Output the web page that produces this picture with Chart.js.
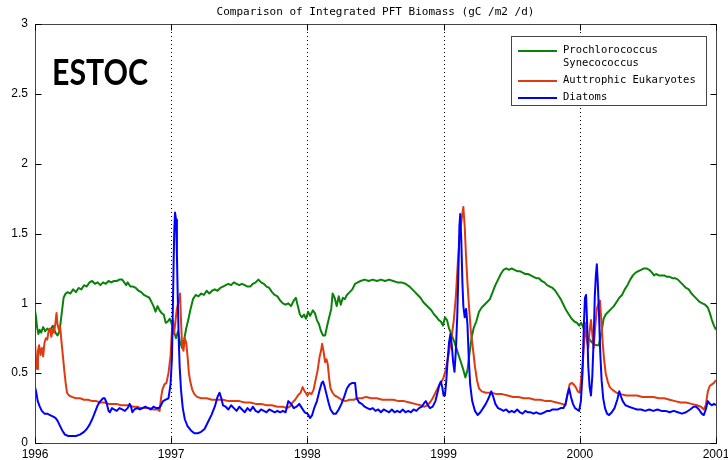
<!DOCTYPE html>
<html>
<head>
<meta charset="utf-8">
<script src="https://cdn.jsdelivr.net/npm/chart.js@4/dist/chart.umd.min.js"></script>
<style>
  html, body { margin: 0; padding: 0; background: #fff; }
  canvas { display: block; }
</style>
</head>
<body>
<canvas id="chart-canvas" width="728" height="460"></canvas>
<script>
var chartTitle = 'Comparison of Integrated PFT Biomass (gC /m2 /d)';
var siteName = 'ESTOC';
var yearTicks = [1996, 1997, 1998, 1999, 2000, 2001];
var valueTicks = [0, 0.5, 1, 1.5, 2, 2.5, 3];
var legendLabels = [['Prochlorococcus', 'Synecococcus'], ['Auttrophic Eukaryotes'], ['Diatoms']];
var seriesColors = ['#0a820a', '#e03a10', '#0000ff'];

// [year, gC/m2/d]
var prochloro = [
  [1996.000,0.95],[1996.008,0.90],[1996.015,0.83],[1996.025,0.78],[1996.035,0.81],[1996.045,0.79],
  [1996.060,0.83],[1996.075,0.80],[1996.090,0.82],[1996.110,0.80],[1996.130,0.84],[1996.150,0.79],
  [1996.165,0.77],[1996.180,0.80],[1996.195,0.92],[1996.210,1.04],[1996.225,1.07],[1996.240,1.08],
  [1996.260,1.07],[1996.280,1.10],[1996.300,1.08],[1996.320,1.11],[1996.340,1.10],[1996.360,1.13],
  [1996.380,1.12],[1996.400,1.15],[1996.420,1.16],[1996.440,1.14],[1996.460,1.15],[1996.480,1.13],
  [1996.500,1.15],[1996.520,1.14],[1996.540,1.16],[1996.560,1.15],[1996.580,1.16],[1996.600,1.16],
  [1996.620,1.17],[1996.640,1.17],[1996.655,1.15],[1996.670,1.13],[1996.680,1.15],[1996.700,1.12],
  [1996.720,1.12],[1996.740,1.11],[1996.760,1.09],[1996.780,1.08],[1996.800,1.06],[1996.820,1.05],
  [1996.840,1.04],[1996.855,1.01],[1996.870,0.98],[1996.885,0.94],[1996.900,0.98],[1996.915,0.95],
  [1996.930,0.93],[1996.945,0.92],[1996.960,0.86],[1996.975,0.87],[1996.990,0.89],[1997.005,0.85],
  [1997.020,0.80],[1997.035,0.75],[1997.050,0.80],[1997.065,0.72],[1997.080,0.68],[1997.095,0.74],
  [1997.110,0.82],[1997.125,0.88],[1997.140,0.95],[1997.160,1.03],[1997.180,1.06],[1997.200,1.05],
  [1997.220,1.07],[1997.240,1.06],[1997.260,1.09],[1997.280,1.07],[1997.300,1.09],[1997.320,1.10],
  [1997.340,1.09],[1997.360,1.11],[1997.380,1.12],[1997.400,1.13],[1997.420,1.14],[1997.440,1.13],
  [1997.460,1.15],[1997.480,1.14],[1997.500,1.13],[1997.520,1.14],[1997.540,1.13],[1997.560,1.12],
  [1997.580,1.12],[1997.600,1.14],[1997.620,1.15],[1997.640,1.17],[1997.660,1.15],[1997.680,1.14],
  [1997.700,1.12],[1997.720,1.11],[1997.740,1.08],[1997.760,1.06],[1997.780,1.05],[1997.800,1.02],
  [1997.820,1.00],[1997.840,0.99],[1997.860,1.00],[1997.880,0.98],[1997.900,1.02],[1997.915,1.04],
  [1997.930,0.98],[1997.945,0.92],[1997.960,0.90],[1997.975,0.92],[1997.990,0.89],[1998.005,0.94],
  [1998.020,0.91],[1998.040,0.95],[1998.055,0.93],[1998.070,0.88],[1998.085,0.85],[1998.100,0.80],
  [1998.115,0.77],[1998.130,0.77],[1998.145,0.84],[1998.160,0.90],[1998.175,0.96],[1998.185,1.07],
  [1998.200,1.04],[1998.215,0.98],[1998.230,1.05],[1998.245,0.99],[1998.260,1.04],[1998.275,1.03],
  [1998.290,1.06],[1998.310,1.08],[1998.330,1.10],[1998.350,1.14],[1998.370,1.15],[1998.390,1.16],
  [1998.420,1.17],[1998.450,1.16],[1998.480,1.17],[1998.510,1.16],[1998.540,1.17],[1998.570,1.16],
  [1998.600,1.17],[1998.630,1.16],[1998.660,1.15],[1998.690,1.15],[1998.720,1.14],[1998.750,1.12],
  [1998.770,1.10],[1998.790,1.08],[1998.810,1.06],[1998.830,1.04],[1998.850,1.01],[1998.870,0.99],
  [1998.890,0.97],[1998.910,0.95],[1998.930,0.92],[1998.950,0.90],[1998.965,0.88],[1998.980,0.87],
  [1998.995,0.84],[1999.010,0.90],[1999.025,0.88],[1999.040,0.82],[1999.060,0.77],[1999.080,0.72],
  [1999.100,0.66],[1999.120,0.60],[1999.140,0.54],[1999.160,0.47],[1999.175,0.52],[1999.190,0.64],
  [1999.205,0.75],[1999.220,0.82],[1999.240,0.87],[1999.260,0.94],[1999.280,0.97],[1999.300,0.99],
  [1999.320,1.01],[1999.340,1.03],[1999.360,1.08],[1999.380,1.13],[1999.400,1.17],[1999.420,1.21],
  [1999.440,1.24],[1999.460,1.25],[1999.480,1.24],[1999.500,1.25],[1999.520,1.24],[1999.540,1.23],
  [1999.560,1.23],[1999.580,1.22],[1999.600,1.21],[1999.620,1.21],[1999.640,1.20],[1999.660,1.19],
  [1999.680,1.18],[1999.700,1.18],[1999.720,1.16],[1999.740,1.15],[1999.760,1.13],[1999.780,1.12],
  [1999.800,1.11],[1999.820,1.09],[1999.840,1.06],[1999.860,1.03],[1999.880,0.99],[1999.900,0.95],
  [1999.920,0.92],[1999.940,0.89],[1999.960,0.87],[1999.980,0.86],[1999.995,0.84],[2000.010,0.86],
  [2000.025,0.83],[2000.040,0.80],[2000.060,0.76],[2000.080,0.73],[2000.100,0.71],[2000.120,0.70],
  [2000.140,0.70],[2000.160,0.80],[2000.175,0.89],[2000.190,0.92],[2000.210,0.94],[2000.230,0.96],
  [2000.250,0.98],[2000.270,1.01],[2000.290,1.04],[2000.310,1.06],[2000.330,1.10],[2000.350,1.13],
  [2000.370,1.17],[2000.390,1.20],[2000.410,1.22],[2000.430,1.23],[2000.450,1.24],[2000.470,1.25],
  [2000.490,1.25],[2000.510,1.24],[2000.530,1.22],[2000.545,1.20],[2000.560,1.21],[2000.580,1.20],
  [2000.600,1.20],[2000.620,1.20],[2000.640,1.19],[2000.660,1.19],[2000.680,1.18],[2000.700,1.18],
  [2000.720,1.17],[2000.740,1.15],[2000.760,1.13],[2000.780,1.11],[2000.800,1.10],[2000.820,1.07],
  [2000.840,1.05],[2000.860,1.03],[2000.880,1.01],[2000.900,1.00],[2000.920,0.99],[2000.940,0.97],
  [2000.955,0.93],[2000.970,0.88],[2000.985,0.84],[2001.000,0.81]
];

var eukaryotes = [
  [1996.000,0.71],[1996.008,0.60],[1996.015,0.53],[1996.022,0.66],[1996.030,0.70],[1996.040,0.63],
  [1996.050,0.68],[1996.060,0.62],[1996.070,0.72],[1996.080,0.75],[1996.090,0.74],[1996.100,0.80],
  [1996.110,0.82],[1996.120,0.76],[1996.130,0.81],[1996.140,0.79],[1996.150,0.86],[1996.158,0.93],
  [1996.165,0.85],[1996.175,0.81],[1996.185,0.83],[1996.195,0.72],[1996.205,0.62],[1996.215,0.52],
  [1996.225,0.43],[1996.235,0.36],[1996.250,0.34],[1996.270,0.33],[1996.300,0.32],[1996.330,0.32],
  [1996.360,0.31],[1996.390,0.31],[1996.420,0.30],[1996.450,0.30],[1996.480,0.29],[1996.510,0.29],
  [1996.540,0.28],[1996.570,0.28],[1996.600,0.28],[1996.630,0.27],[1996.660,0.27],[1996.690,0.27],
  [1996.720,0.26],[1996.750,0.26],[1996.780,0.25],[1996.810,0.25],[1996.840,0.25],[1996.870,0.24],
  [1996.900,0.24],[1996.915,0.23],[1996.925,0.32],[1996.935,0.38],[1996.950,0.42],[1996.965,0.43],
  [1996.980,0.50],[1996.995,0.62],[1997.005,0.80],[1997.012,0.88],[1997.020,0.78],[1997.030,0.86],
  [1997.040,0.95],[1997.055,1.02],[1997.065,1.07],[1997.072,0.88],[1997.080,0.70],[1997.090,0.66],
  [1997.100,0.75],[1997.110,0.72],[1997.120,0.62],[1997.130,0.50],[1997.140,0.44],[1997.155,0.38],
  [1997.170,0.35],[1997.190,0.33],[1997.220,0.32],[1997.260,0.32],[1997.300,0.31],[1997.340,0.31],
  [1997.380,0.31],[1997.420,0.30],[1997.460,0.30],[1997.500,0.30],[1997.540,0.29],[1997.580,0.29],
  [1997.620,0.28],[1997.660,0.28],[1997.700,0.27],[1997.740,0.27],[1997.780,0.26],[1997.820,0.26],
  [1997.850,0.25],[1997.870,0.26],[1997.890,0.29],[1997.910,0.31],[1997.930,0.34],[1997.950,0.36],
  [1997.965,0.40],[1997.980,0.37],[1998.000,0.34],[1998.015,0.36],[1998.030,0.35],[1998.045,0.38],
  [1998.060,0.45],[1998.075,0.52],[1998.090,0.62],[1998.100,0.66],[1998.108,0.71],[1998.118,0.66],
  [1998.130,0.58],[1998.140,0.60],[1998.150,0.56],[1998.160,0.46],[1998.170,0.39],[1998.185,0.36],
  [1998.200,0.34],[1998.220,0.33],[1998.250,0.31],[1998.280,0.30],[1998.310,0.31],[1998.340,0.31],
  [1998.370,0.32],[1998.400,0.32],[1998.430,0.33],[1998.470,0.32],[1998.510,0.32],[1998.550,0.31],
  [1998.590,0.31],[1998.630,0.31],[1998.670,0.30],[1998.710,0.30],[1998.750,0.29],[1998.790,0.28],
  [1998.830,0.27],[1998.860,0.26],[1998.880,0.27],[1998.900,0.29],[1998.920,0.32],[1998.940,0.36],
  [1998.960,0.40],[1998.980,0.43],[1999.000,0.47],[1999.015,0.52],[1999.030,0.60],[1999.045,0.68],
  [1999.060,0.77],[1999.075,0.88],[1999.090,1.05],[1999.105,1.30],[1999.120,1.50],[1999.135,1.62],
  [1999.145,1.69],[1999.155,1.55],[1999.165,1.33],[1999.175,1.15],[1999.185,1.00],[1999.200,0.80],
  [1999.215,0.68],[1999.230,0.55],[1999.245,0.45],[1999.260,0.39],[1999.280,0.37],[1999.310,0.36],
  [1999.350,0.36],[1999.390,0.35],[1999.430,0.35],[1999.470,0.34],[1999.510,0.33],[1999.550,0.33],
  [1999.590,0.32],[1999.630,0.32],[1999.670,0.31],[1999.710,0.31],[1999.750,0.30],[1999.790,0.30],
  [1999.830,0.29],[1999.870,0.28],[1999.895,0.27],[1999.910,0.35],[1999.925,0.42],[1999.940,0.43],
  [1999.955,0.42],[1999.970,0.40],[1999.985,0.37],[2000.000,0.36],[2000.012,0.48],[2000.022,0.57],
  [2000.032,0.72],[2000.042,0.86],[2000.052,0.74],[2000.062,0.68],[2000.072,0.80],[2000.082,0.88],
  [2000.092,0.78],[2000.102,0.68],[2000.112,0.82],[2000.125,0.96],[2000.138,1.00],[2000.148,1.02],
  [2000.158,0.88],[2000.168,0.72],[2000.178,0.60],[2000.190,0.50],[2000.205,0.44],[2000.220,0.40],
  [2000.240,0.38],[2000.270,0.36],[2000.300,0.35],[2000.340,0.34],[2000.380,0.34],[2000.420,0.34],
  [2000.460,0.33],[2000.500,0.33],[2000.540,0.33],[2000.580,0.32],[2000.620,0.32],[2000.660,0.31],
  [2000.700,0.30],[2000.740,0.29],[2000.780,0.29],[2000.820,0.28],[2000.860,0.27],[2000.890,0.26],
  [2000.910,0.24],[2000.925,0.27],[2000.940,0.37],[2000.955,0.41],[2000.970,0.42],[2000.985,0.43],
  [2001.000,0.45]
];

var diatoms = [
  [1996.000,0.40],[1996.008,0.37],[1996.020,0.30],[1996.035,0.26],[1996.050,0.23],[1996.070,0.21],
  [1996.090,0.21],[1996.110,0.20],[1996.130,0.19],[1996.150,0.18],[1996.165,0.16],[1996.180,0.13],
  [1996.200,0.09],[1996.220,0.06],[1996.245,0.05],[1996.270,0.05],[1996.300,0.05],[1996.330,0.06],
  [1996.360,0.08],[1996.380,0.10],[1996.400,0.13],[1996.420,0.17],[1996.440,0.22],[1996.460,0.27],
  [1996.480,0.30],[1996.500,0.32],[1996.512,0.32],[1996.525,0.29],[1996.540,0.23],[1996.550,0.22],
  [1996.565,0.25],[1996.580,0.24],[1996.600,0.23],[1996.620,0.25],[1996.640,0.24],[1996.660,0.23],
  [1996.680,0.25],[1996.695,0.28],[1996.705,0.26],[1996.715,0.22],[1996.730,0.24],[1996.750,0.25],
  [1996.770,0.24],[1996.790,0.25],[1996.810,0.26],[1996.830,0.25],[1996.850,0.24],[1996.870,0.26],
  [1996.890,0.25],[1996.910,0.25],[1996.925,0.27],[1996.940,0.30],[1996.960,0.31],[1996.980,0.32],
  [1996.995,0.42],[1997.005,0.60],[1997.012,0.95],[1997.018,1.30],[1997.022,1.50],[1997.028,1.65],
  [1997.036,1.60],[1997.042,1.35],[1997.048,1.05],[1997.055,0.75],[1997.062,0.55],[1997.072,0.38],
  [1997.085,0.25],[1997.100,0.17],[1997.120,0.12],[1997.145,0.09],[1997.170,0.07],[1997.195,0.07],
  [1997.220,0.08],[1997.245,0.10],[1997.270,0.15],[1997.295,0.20],[1997.320,0.26],[1997.340,0.33],
  [1997.355,0.36],[1997.368,0.32],[1997.380,0.27],[1997.400,0.26],[1997.420,0.24],[1997.440,0.27],
  [1997.460,0.25],[1997.480,0.23],[1997.500,0.26],[1997.520,0.24],[1997.540,0.22],[1997.560,0.25],
  [1997.580,0.23],[1997.600,0.26],[1997.620,0.23],[1997.640,0.22],[1997.660,0.24],[1997.680,0.23],
  [1997.700,0.22],[1997.720,0.24],[1997.740,0.23],[1997.760,0.22],[1997.780,0.23],[1997.800,0.22],
  [1997.820,0.23],[1997.840,0.22],[1997.860,0.30],[1997.880,0.28],[1997.900,0.25],[1997.920,0.26],
  [1997.940,0.28],[1997.960,0.25],[1997.980,0.22],[1998.000,0.21],[1998.020,0.18],[1998.035,0.20],
  [1998.050,0.25],[1998.070,0.30],[1998.090,0.38],[1998.105,0.43],[1998.115,0.44],[1998.125,0.41],
  [1998.140,0.35],[1998.155,0.29],[1998.170,0.24],[1998.190,0.21],[1998.210,0.21],[1998.230,0.24],
  [1998.250,0.28],[1998.270,0.33],[1998.290,0.39],[1998.310,0.42],[1998.330,0.43],[1998.350,0.43],
  [1998.362,0.32],[1998.380,0.29],[1998.400,0.28],[1998.420,0.26],[1998.440,0.25],[1998.460,0.24],
  [1998.480,0.25],[1998.500,0.23],[1998.520,0.24],[1998.540,0.22],[1998.560,0.24],[1998.580,0.23],
  [1998.600,0.22],[1998.620,0.24],[1998.640,0.22],[1998.660,0.23],[1998.680,0.22],[1998.700,0.24],
  [1998.720,0.22],[1998.740,0.23],[1998.760,0.22],[1998.780,0.24],[1998.800,0.23],[1998.820,0.25],
  [1998.840,0.26],[1998.860,0.29],[1998.870,0.30],[1998.885,0.27],[1998.900,0.25],[1998.920,0.26],
  [1998.940,0.30],[1998.955,0.36],[1998.970,0.42],[1998.980,0.44],[1998.990,0.40],[1999.000,0.34],
  [1999.010,0.34],[1999.020,0.45],[1999.030,0.60],[1999.040,0.72],[1999.050,0.78],[1999.060,0.70],
  [1999.070,0.58],[1999.080,0.51],[1999.090,0.66],[1999.100,0.90],[1999.108,1.20],[1999.116,1.55],
  [1999.122,1.64],[1999.130,1.45],[1999.138,1.15],[1999.145,0.98],[1999.155,0.90],[1999.165,0.96],
  [1999.175,0.85],[1999.185,0.60],[1999.195,0.42],[1999.210,0.30],[1999.230,0.23],[1999.250,0.20],
  [1999.270,0.22],[1999.290,0.25],[1999.310,0.28],[1999.330,0.32],[1999.350,0.37],[1999.365,0.33],
  [1999.380,0.28],[1999.400,0.25],[1999.420,0.24],[1999.440,0.23],[1999.460,0.24],[1999.480,0.22],
  [1999.500,0.23],[1999.520,0.22],[1999.540,0.24],[1999.560,0.22],[1999.580,0.21],[1999.600,0.23],
  [1999.620,0.22],[1999.640,0.22],[1999.660,0.21],[1999.680,0.22],[1999.700,0.21],[1999.720,0.21],
  [1999.740,0.22],[1999.760,0.23],[1999.780,0.23],[1999.800,0.24],[1999.820,0.24],[1999.840,0.24],
  [1999.860,0.25],[1999.880,0.25],[1999.895,0.28],[1999.910,0.35],[1999.922,0.39],[1999.935,0.33],
  [1999.950,0.28],[1999.965,0.25],[1999.980,0.24],[1999.995,0.23],[2000.008,0.30],[2000.020,0.50],
  [2000.030,0.85],[2000.038,1.04],[2000.046,1.06],[2000.054,0.85],[2000.062,0.55],[2000.072,0.40],
  [2000.082,0.34],[2000.092,0.48],[2000.102,0.75],[2000.110,1.05],[2000.118,1.20],[2000.125,1.28],
  [2000.132,1.15],[2000.140,0.95],[2000.150,0.65],[2000.160,0.45],[2000.172,0.32],[2000.185,0.25],
  [2000.200,0.21],[2000.215,0.20],[2000.235,0.22],[2000.255,0.25],[2000.275,0.31],[2000.290,0.37],
  [2000.300,0.34],[2000.315,0.30],[2000.335,0.27],[2000.360,0.26],[2000.390,0.25],[2000.420,0.24],
  [2000.450,0.24],[2000.480,0.23],[2000.510,0.24],[2000.540,0.23],[2000.570,0.24],[2000.600,0.23],
  [2000.630,0.23],[2000.660,0.22],[2000.690,0.23],[2000.720,0.22],[2000.750,0.21],[2000.780,0.22],
  [2000.810,0.24],[2000.835,0.26],[2000.855,0.26],[2000.875,0.24],[2000.895,0.21],[2000.910,0.20],
  [2000.925,0.24],[2000.940,0.30],[2000.955,0.28],[2000.970,0.27],[2000.985,0.28],[2001.000,0.27]
];

function toPoints(pairs) {
  return pairs.map(function (p) { return { x: p[0], y: p[1] }; });
}

// Box, inward ticks, dotted year lines, title, station label and legend.
var axesFrame = {
  id: 'axesFrame',
  beforeDatasetsDraw: function (chart) {
    var ctx = chart.ctx, a = chart.chartArea, xs = chart.scales.x;
    ctx.save();
    ctx.strokeStyle = '#000';
    ctx.lineWidth = 1;
    ctx.setLineDash([1, 3]);
    for (var i = 1; i < yearTicks.length - 1; i++) {
      var px = Math.round(xs.getPixelForValue(yearTicks[i])) + 0.5;
      ctx.beginPath();
      ctx.moveTo(px, a.top);
      ctx.lineTo(px, a.bottom);
      ctx.stroke();
    }
    ctx.restore();
  },
  afterDraw: function (chart) {
    var ctx = chart.ctx, a = chart.chartArea, xs = chart.scales.x, ys = chart.scales.y;
    var l = Math.round(a.left) + 0.5, r = Math.round(a.right) + 0.5;
    var t = Math.round(a.top) + 0.5, b = Math.round(a.bottom) + 0.5;
    var tick = 6;
    ctx.save();
    ctx.strokeStyle = '#444';
    ctx.lineWidth = 1;
    ctx.strokeRect(l, t, r - l, b - t);
    ctx.strokeStyle = '#000';
    ctx.beginPath();
    yearTicks.forEach(function (v) {
      var px = Math.round(xs.getPixelForValue(v)) + 0.5;
      ctx.moveTo(px, b); ctx.lineTo(px, b - tick);
      ctx.moveTo(px, t); ctx.lineTo(px, t + tick);
    });
    valueTicks.forEach(function (v) {
      var py = Math.round(ys.getPixelForValue(v)) + 0.5;
      ctx.moveTo(l, py); ctx.lineTo(l + tick, py);
      ctx.moveTo(r, py); ctx.lineTo(r - tick, py);
    });
    ctx.stroke();

    // title, centred over the axes
    ctx.fillStyle = '#000';
    ctx.font = '11px "DejaVu Sans Mono"';
    ctx.textAlign = 'center';
    ctx.textBaseline = 'middle';
    ctx.fillText(chartTitle, (a.left + a.right) / 2, 12);

    // station label
    ctx.textAlign = 'left';
    ctx.textBaseline = 'alphabetic';
    ctx.font = 'bold 37px Lato';
    ctx.save();
    ctx.translate(52, 85);
    ctx.scale(0.82, 1);
    ctx.fillText(siteName, 0, 0);
    ctx.restore();

    // legend box
    var bx = 511.5, by = 36.5, bw = 195, bh = 69;
    ctx.fillStyle = '#fff';
    ctx.fillRect(bx, by, bw, bh);
    ctx.strokeStyle = '#444';
    ctx.strokeRect(bx, by, bw, bh);
    ctx.font = '10.5px "DejaVu Sans Mono"';
    ctx.textBaseline = 'middle';
    var rowY = [[50, 63], [80], [97]];
    chart.data.datasets.forEach(function (ds, i) {
      var lineY = rowY[i][0] + 1;
      ctx.strokeStyle = ds.borderColor;
      ctx.lineWidth = 2;
      ctx.beginPath();
      ctx.moveTo(518, lineY);
      ctx.lineTo(557, lineY);
      ctx.stroke();
      ctx.fillStyle = '#000';
      legendLabels[i].forEach(function (txt, j) {
        ctx.fillText(txt, 563, rowY[i][j]);
      });
    });
    ctx.restore();
  }
};

var names = ['Prochlorococcus Synecococcus', 'Auttrophic Eukaryotes', 'Diatoms'];
var series = [prochloro, eukaryotes, diatoms];

var datasets = series.map(function (s, i) {
  return {
    label: names[i],
    data: toPoints(s),
    borderColor: seriesColors[i],
    borderWidth: 2,
    pointRadius: 0,
    tension: 0,
    fill: false,
    borderJoinStyle: 'round',
    order: 3 - i
  };
});

var tickFont = { family: '"Liberation Sans", Arial, sans-serif', size: 12 };

new Chart(document.getElementById('chart-canvas').getContext('2d'), {
  type: 'line',
  data: { datasets: datasets },
  options: {
    responsive: false,
    animation: false,
    devicePixelRatio: 1,
    layout: { padding: { left: 0, right: 12, top: 24, bottom: 0 } },
    scales: {
      x: {
        type: 'linear',
        min: yearTicks[0],
        max: yearTicks[yearTicks.length - 1],
        afterBuildTicks: function (scale) {
          scale.ticks = yearTicks.map(function (v) { return { value: v }; });
        },
        afterFit: function (scale) {
          scale.height = 17;
          scale.paddingLeft = 0;
          scale.paddingRight = 0;
        },
        ticks: {
          color: '#000',
          font: tickFont,
          padding: 4,
          maxRotation: 0,
          autoSkip: false,
          callback: function (v) { return String(v); }
        },
        grid: { display: false, drawTicks: false },
        border: { display: false }
      },
      y: {
        type: 'linear',
        min: valueTicks[0],
        max: valueTicks[valueTicks.length - 1],
        afterBuildTicks: function (scale) {
          scale.ticks = valueTicks.map(function (v) { return { value: v }; });
        },
        afterFit: function (scale) {
          scale.width = 35;
          scale.paddingTop = 0;
          scale.paddingBottom = 0;
        },
        ticks: {
          color: '#000',
          font: tickFont,
          padding: 7,
          callback: function (v) { return String(v); }
        },
        grid: { display: false, drawTicks: false },
        border: { display: false }
      }
    },
    plugins: {
      legend: { display: false },
      tooltip: { enabled: false },
      title: { display: false }
    }
  },
  plugins: [axesFrame]
});
</script>
</body>
</html>
